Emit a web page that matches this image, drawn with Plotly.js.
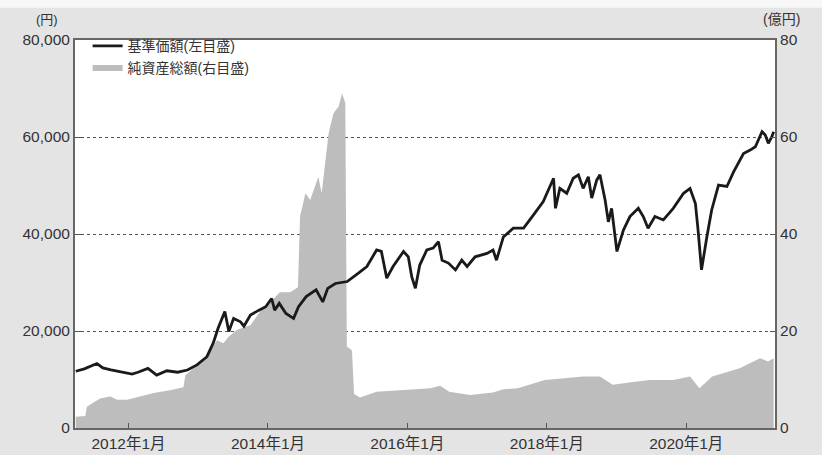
<!DOCTYPE html>
<html>
<head>
<meta charset="utf-8">
<script src="https://cdn.plot.ly/plotly-3.0.1.min.js"></script>
<style>html,body{margin:0;padding:0;background:#e6e6e6;}#chart{width:822px;height:455px;}</style>
</head>
<body>
<div id="chart"></div>
<script>
// 基準価額 (円, left axis)
const navDates = ["2011-03-31","2011-05-15","2011-07-20","2011-08-20","2011-10-01","2011-11-20","2012-01-20","2012-02-20","2012-04-12","2012-05-28","2012-07-20","2012-09-15","2012-11-05","2012-12-25","2013-02-15","2013-03-20","2013-04-15","2013-05-20","2013-06-10","2013-07-05","2013-08-10","2013-08-28","2013-10-01","2013-11-15","2013-12-20","2014-01-20","2014-02-05","2014-03-01","2014-04-05","2014-05-15","2014-06-10","2014-07-20","2014-09-10","2014-10-15","2014-11-10","2014-12-20","2015-02-20","2015-04-18","2015-06-03","2015-07-24","2015-08-18","2015-09-15","2015-10-18","2015-12-12","2016-01-06","2016-01-24","2016-02-12","2016-03-06","2016-04-12","2016-05-15","2016-06-12","2016-07-01","2016-08-03","2016-09-09","2016-10-12","2016-11-09","2016-12-21","2017-02-21","2017-03-25","2017-04-12","2017-05-18","2017-07-09","2017-09-01","2017-10-22","2017-12-13","2018-02-05","2018-02-15","2018-03-10","2018-04-15","2018-05-19","2018-06-15","2018-07-10","2018-08-06","2018-08-24","2018-09-19","2018-10-06","2018-11-02","2018-11-19","2018-12-06","2019-01-03","2019-02-06","2019-03-12","2019-04-25","2019-05-21","2019-06-15","2019-07-21","2019-09-03","2019-10-25","2019-12-18","2020-01-21","2020-02-18","2020-03-03","2020-03-21","2020-04-18","2020-05-13","2020-06-18","2020-08-01","2020-09-05","2020-10-27","2020-12-01","2020-12-28","2021-02-01","2021-02-18","2021-03-06","2021-03-25","2021-04-03"];
const navValues = [11700,12200,13300,12400,12000,11600,11100,11500,12300,10900,11800,11500,11950,13000,14700,17500,20600,24000,19900,22600,21900,21000,23300,24300,25000,26700,24300,25700,23600,22600,25000,27100,28500,26000,28800,29800,30200,31900,33300,36700,36400,30900,33300,36400,35300,31200,28800,33600,36700,37100,38400,34600,34000,32600,34600,33300,35300,36000,36700,34600,39400,41200,41200,43900,46700,51500,45300,49400,48400,51500,52200,49400,51800,47400,51100,52200,47000,42500,45300,36400,40800,43600,45300,43600,41200,43600,42900,45300,48400,49400,46300,40800,32600,39400,44900,50100,49800,52800,56600,57300,58000,61100,60400,58700,60100,61100];

// 純資産総額 (億円, right axis)
const aumDates = ["2011-03-31","2011-05-20","2011-05-28","2011-08-05","2011-09-28","2011-11-03","2011-12-25","2012-03-03","2012-05-12","2012-08-06","2012-10-15","2012-10-25","2012-12-25","2013-02-15","2013-04-09","2013-05-12","2013-06-09","2013-07-21","2013-10-01","2013-11-21","2014-01-13","2014-03-04","2014-04-27","2014-06-07","2014-06-18","2014-07-16","2014-08-10","2014-09-06","2014-09-22","2014-10-09","2014-11-15","2014-12-10","2015-01-06","2015-01-24","2015-02-10","2015-02-18","2015-03-17","2015-03-28","2015-04-28","2015-07-24","2015-12-12","2016-05-01","2016-06-21","2016-08-07","2016-11-25","2017-03-25","2017-05-18","2017-08-01","2017-12-22","2018-07-10","2018-10-06","2018-12-12","2019-03-27","2019-06-25","2019-10-25","2020-01-21","2020-03-10","2020-05-16","2020-10-07","2021-01-22","2021-03-04","2021-04-03"];
const aumValues = [2.3,2.5,4.4,6.1,6.5,5.8,5.8,6.5,7.2,7.8,8.4,10.9,13,14.7,18.1,17.5,18.8,20.2,21.2,24,26,28,28,29,43.6,48.4,47,49.8,51.8,48.4,60.8,64.9,66.3,69,67,16.8,16,7.0,6.3,7.5,7.8,8.2,8.7,7.5,6.8,7.3,8,8.2,9.9,10.6,10.6,8.9,9.5,9.9,9.9,10.6,8.2,10.6,12.3,14.4,13.7,14.4];

const xTickVals = ["2012-01-01","2014-01-01","2016-01-01","2018-01-01","2020-01-01"];
const xTickText = ["2012年1月","2014年1月","2016年1月","2018年1月","2020年1月"];
const leftTickVals = [0,20000,40000,60000,80000];
const leftTickText = ["0","20,000","40,000","60,000","80,000"];
const rightTickVals = [0,20,40,60,80];

const FONT = "Liberation Sans, Noto Sans CJK JP, sans-serif";

const traces = [
  {
    x: aumDates, y: aumValues, yaxis: "y", type: "scatter", mode: "lines",
    name: "純資産総額(右目盛)", fill: "tozeroy", fillcolor: "#bdbdbd",
    line: {width: 0, color: "#bdbdbd"}, legendrank: 2
  },
  {
    x: navDates, y: navValues, yaxis: "y2", type: "scatter", mode: "lines",
    name: "基準価額(左目盛)", line: {width: 2.8, color: "#1a1a1a"}, legendrank: 1
  }
];

const layout = {
  width: 822, height: 455,
  margin: {l: 75, r: 47, t: 40, b: 27},
  paper_bgcolor: "#e4e4e4", plot_bgcolor: "#ffffff",
  font: {family: FONT, size: 15, color: "#333333"},
  showlegend: true,
  legend: {x: 0.018, y: 1.025, xanchor: "left", yanchor: "top", bgcolor: "rgba(0,0,0,0)",
           font: {size: 14, color: "#333"}, tracegroupgap: 0, itemwidth: 30},
  xaxis: {
    type: "date", range: ["2011-03-27","2021-04-10"],
    tickvals: xTickVals, ticktext: xTickText, ticks: "inside", ticklen: 5, tickcolor: "#555",
    showgrid: false, showline: true, linecolor: "#666", linewidth: 2, mirror: true,
    tickfont: {size: 15.5, color: "#333"}
  },
  yaxis: {
    side: "right", range: [0, 80], tickvals: rightTickVals, ticks: "inside", ticklen: 5, tickcolor: "#555",
    showgrid: false, zeroline: false, showline: true, linecolor: "#666", linewidth: 2,
    tickfont: {size: 15.5, color: "#333"}
  },
  yaxis2: {
    overlaying: "y", side: "left", range: [0, 80000], tickvals: leftTickVals, ticktext: leftTickText,
    ticks: "inside", ticklen: 6, tickcolor: "#555",
    showgrid: true, gridcolor: "#555", griddash: "dot", gridwidth: 1, zeroline: false,
    showline: true, linecolor: "#666", linewidth: 2, tickfont: {size: 15.5, color: "#333"}
  },
  shapes: [
    {type: "rect", xref: "paper", yref: "paper", x0: -0.2, x1: 1.2, y0: 1.083, y1: 1.2,
     fillcolor: "#f7f7f7", line: {width: 0}, layer: "below"}
  ],
  annotations: [
    {text: "(円)", xref: "paper", yref: "paper", x: -0.022, y: 1.028, xanchor: "right", yanchor: "bottom",
     showarrow: false, font: {size: 13, color: "#333"}},
    {text: "(億円)", xref: "paper", yref: "paper", x: 1.038, y: 1.028, xanchor: "right", yanchor: "bottom",
     showarrow: false, font: {size: 14, color: "#333"}}
  ]
};

Plotly.newPlot("chart", traces, layout, {displayModeBar: false, staticPlot: true});
</script>
</body>
</html>
